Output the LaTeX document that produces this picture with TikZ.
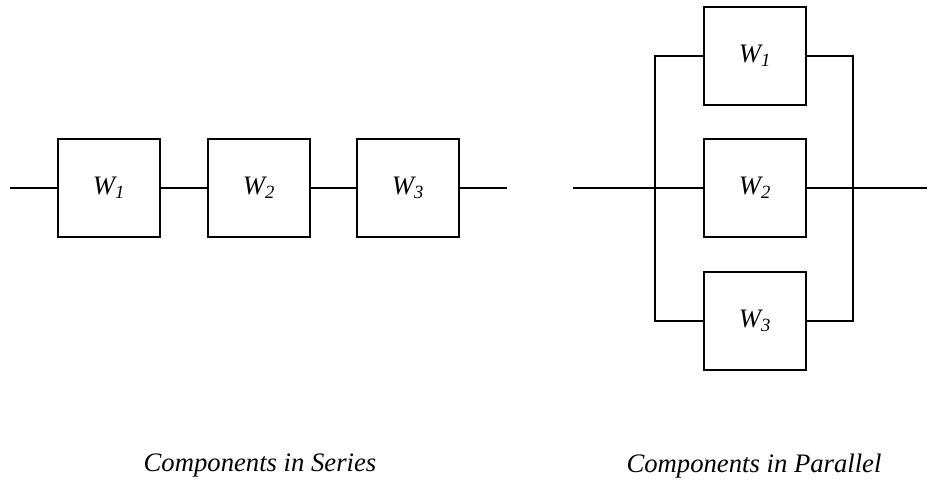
\documentclass[tikz,border=0pt]{standalone}
\usepackage{fontspec}
\setmainfont{LiberationSerif}[Extension=.ttf, UprightFont=*-Regular, ItalicFont=*-Italic]
\usepackage{tikz}

\begin{document}
\begin{tikzpicture}[
    x=0.75pt, y=-0.75pt,
    block/.style={rectangle, draw, line width=1.4pt, minimum width=76pt, minimum height=74pt, inner sep=0pt, font=\fontsize{20}{24}\selectfont\itshape},
    wire/.style={line width=1.4pt},
    caption/.style={font=\fontsize{20}{24}\selectfont\itshape}
  ]
    \useasboundingbox (0,0) rectangle (929,487);

    % Series connection
    \node[block] (sw1) at (109,188) {W\textsubscript{1}};
    \node[block] (sw2) at (259,188) {W\textsubscript{2}};
    \node[block] (sw3) at (408,188) {W\textsubscript{3}};
    \coordinate (sin) at (10,188);
    \coordinate (sout) at (507,188);

    \draw[wire] (sin) -- (sw1);
    \draw[wire] (sw1) -- (sw2);
    \draw[wire] (sw2) -- (sw3);
    \draw[wire] (sw3) -- (sout);

    % Parallel connection
    \node[block] (pw1) at (755,56) {W\textsubscript{1}};
    \node[block] (pw2) at (755,188) {W\textsubscript{2}};
    \node[block] (pw3) at (755,321) {W\textsubscript{3}};
    \coordinate (pin) at (573,188);
    \coordinate (pout) at (927,188);
    \coordinate (jl) at (655,188);
    \coordinate (jr) at (853,188);

    \draw[wire] (pin) -- (pw2);
    \draw[wire] (pw2) -- (pout);
    \draw[wire] (pw1.west) -| (jl) |- (pw3.west);
    \draw[wire] (pw1.east) -| (jr) |- (pw3.east);

    % Captions
    \node[caption] (serieslabel) at (260,466) {Components in Series};
    \node[caption] (parallellabel) at (754,466) {Components in Parallel};

  \end{tikzpicture}
\end{document}
